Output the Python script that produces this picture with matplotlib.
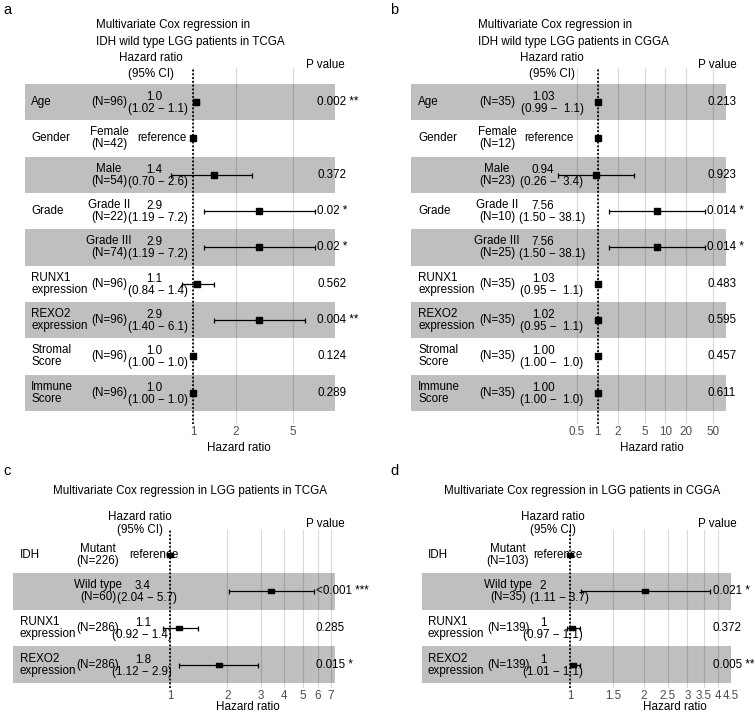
import numpy as np
import matplotlib
matplotlib.use("Agg")
import matplotlib.pyplot as plt
from matplotlib.transforms import blended_transform_factory
from matplotlib.path import Path
from matplotlib.ticker import NullLocator, FixedLocator, FixedFormatter

plt.rcParams["font.family"] = ["Liberation Sans", "DejaVu Sans"]

W, H = 755, 715
FS = 8.4

# ---- panel a: IDH wild type, TCGA ----
vars_a = ["Age", "Gender", "", "Grade", "", "RUNX1\nexpression", "REXO2\nexpression",
          "Stromal\nScore", "Immune\nScore"]
levels_a = ["(N=96)", "Female\n(N=42)", "Male\n(N=54)", "Grade II\n(N=22)", "Grade III\n(N=74)",
            "(N=96)", "(N=96)", "(N=96)", "(N=96)"]
est_a = ["1.0", "reference", "1.4", "2.9", "2.9", "1.1", "2.9", "1.0", "1.0"]
hr_a = [1.05, 1.0, 1.4, 2.9, 2.9, 1.07, 2.9, 1.0, 1.0]
lo_a = [1.02, np.nan, 0.70, 1.19, 1.19, 0.84, 1.40, 1.00, 1.00]
hi_a = [1.1, np.nan, 2.6, 7.2, 7.2, 1.4, 6.1, 1.0, 1.0]
p_a = ["0.002 **", "", "0.372", "0.02 *", "0.02 *", "0.562", "0.004 **", "0.124", "0.289"]
ticks_a = [1, 2, 5]
ticklabels_a = ["1", "2", "5"]

# ---- panel b: IDH wild type, CGGA ----
vars_b = vars_a
levels_b = ["(N=35)", "Female\n(N=12)", "Male\n(N=23)", "Grade II\n(N=10)", "Grade III\n(N=25)",
            "(N=35)", "(N=35)", "(N=35)", "(N=35)"]
est_b = ["1.03", "reference", "0.94", "7.56", "7.56", "1.03", "1.02", "1.00", "1.00"]
hr_b = [1.03, 1.0, 0.94, 7.56, 7.56, 1.03, 1.02, 1.0, 1.0]
lo_b = [0.99, np.nan, 0.26, 1.50, 1.50, 0.95, 0.95, 1.00, 1.00]
hi_b = [1.1, np.nan, 3.4, 38.1, 38.1, 1.1, 1.1, 1.0, 1.0]
p_b = ["0.213", "", "0.923", "0.014 *", "0.014 *", "0.483", "0.595", "0.457", "0.611"]
ticks_b = [0.5, 1, 2, 5, 10, 20, 50]
ticklabels_b = ["0.5", "1", "2", "5", "10", "20", "50"]

# ---- panel c: all LGG, TCGA ----
vars_c = ["IDH", "", "RUNX1\nexpression", "REXO2\nexpression"]
levels_c = ["Mutant\n(N=226)", "Wild type\n(N=60)", "(N=286)", "(N=286)"]
est_c = ["reference", "3.4", "1.1", "1.8"]
hr_c = [1.0, 3.4, 1.11, 1.81]
lo_c = [np.nan, 2.04, 0.92, 1.12]
hi_c = [np.nan, 5.7, 1.4, 2.9]
p_c = ["", "<0.001 ***", "0.285", "0.015 *"]
ticks_c = [1, 2, 3, 4, 5, 6, 7]
ticklabels_c = ["1", "2", "3", "4", "5", "6", "7"]

# ---- panel d: all LGG, CGGA ----
vars_d = vars_c
levels_d = ["Mutant\n(N=103)", "Wild type\n(N=35)", "(N=139)", "(N=139)"]
est_d = ["reference", "2", "1", "1"]
hr_d = [1.0, 2.02, 1.02, 1.03]
lo_d = [np.nan, 1.11, 0.97, 1.01]
hi_d = [np.nan, 3.7, 1.1, 1.1]
p_d = ["", "0.021 *", "0.372", "0.005 **"]
ticks_d = [1, 1.5, 2, 2.5, 3, 3.5, 4, 4.5]
ticklabels_d = ["1", "1.5", "2", "2.5", "3", "3.5", "4", "4.5"]

rect_marker = Path([(-1, -0.55), (1, -0.55), (1, 0.55), (-1, 0.55), (-1, -0.55)],
                   [Path.MOVETO, Path.LINETO, Path.LINETO, Path.LINETO, Path.CLOSEPOLY])


def ci_text(lo, hi, w):
    return f"({lo:.2f} \u2212 {hi:{w}.1f})"


def forest(fig, lay, vars_, levels, est, hr, lo, hi, pv, ticks, ticklabels, hiw, marker, msize):
    n = len(vars_)
    L, R, T, B = lay["left"], lay["right"], lay["top"], lay["bottom"]
    rt, rh = lay["row_top"], lay["row_h"]
    ax = fig.add_axes([L / W, 1 - B / H, (R - L) / W, (B - T) / H])
    ax.set_xscale("log")
    k, one = lay["k"], lay["one"]
    ax.set_xlim(np.exp((L - one) / k), np.exp((R - one) / k))

    def ydata(py):
        return n + 0.5 - (py - rt) / rh

    ax.set_ylim(ydata(B), ydata(T))
    ys = np.arange(n, 0, -1)

    # alternating bands, bottom row grey
    for i, y in enumerate(ys):
        if (n - 1 - i) % 2 == 0:
            ax.axhspan(y - 0.5, y + 0.5, color="black", alpha=0.25, lw=0, zorder=1)

    ax.xaxis.set_major_locator(FixedLocator(ticks))
    ax.xaxis.set_major_formatter(FixedFormatter(ticklabels))
    ax.xaxis.set_minor_locator(NullLocator())
    ax.set_yticks([])
    ax.grid(axis="x", color="#DADADA", lw=0.8, zorder=0.5)
    ax.set_axisbelow(True)
    ax.tick_params(axis="x", length=0, pad=1.5, labelsize=FS, labelcolor="#4D4D4D")
    for s in ax.spines.values():
        s.set_visible(False)
    ax.patch.set_alpha(0)

    ax.axvline(1, color="black", ls=(0, (1, 1.1)), lw=1.3, zorder=2)

    hr = np.array(hr, float)
    lo = np.array(lo, float)
    hi = np.array(hi, float)
    ok = ~np.isnan(lo)
    ax.errorbar(hr[ok], ys[ok], xerr=[hr[ok] - lo[ok], hi[ok] - hr[ok]], fmt="none",
                ecolor="black", elinewidth=0.9, capsize=1.8, capthick=0.9, zorder=3)
    ax.plot(hr, ys, ls="none", marker=marker, ms=msize, color="black", zorder=4)

    tr = blended_transform_factory(ax.transAxes, ax.transData)

    def fx(px):
        return (px - L) / (R - L)

    d_up = 5 / rh
    d_dn = 7 / rh
    ci_dx = lay.get("ci_dx", [0] * n)
    for i, y in enumerate(ys):
        ax.text(fx(lay["var_x"]), y, vars_[i], transform=tr, ha="left", va="center",
                fontsize=FS, linespacing=1.0)
        ax.text(fx(lay["lvl_x"]), y, levels[i], transform=tr, ha="center", va="center",
                fontsize=FS, linespacing=1.0, multialignment="center")
        if est[i] == "reference":
            ax.text(fx(lay["ref_x"]), y, "reference", transform=tr, ha="center", va="center",
                    fontsize=FS)
        else:
            ax.text(fx(lay["est_x"]), y + d_up, est[i], transform=tr, ha="center",
                    va="center", fontsize=FS)
            ax.text(fx(lay["ci_x"] + ci_dx[i]), y - d_dn, ci_text(lo[i], hi[i], hiw),
                    transform=tr, ha="center", va="center", fontsize=FS)
        ax.text(fx(lay["p_x"]), y, pv[i], transform=tr, ha="left", va="center", fontsize=FS)

    # headers
    hy1, hy2, py = lay["hdr_y"]
    fig.text(lay["hdr_x"] / W, 1 - hy1 / H, "Hazard ratio", ha="center", va="center", fontsize=FS)
    fig.text(lay["hdr_x"] / W, 1 - hy2 / H, "(95% CI)", ha="center", va="center", fontsize=FS)
    fig.text(lay["pv_x"] / W, 1 - py / H, "P value", ha="center", va="center", fontsize=FS)
    fig.text(lay["xl"][0] / W, 1 - lay["xl"][1] / H, "Hazard ratio", ha="center", va="center",
             fontsize=FS)
    for tx, ty, s in lay["title"]:
        fig.text(tx / W, 1 - ty / H, s, ha=lay["title_ha"], va="center", fontsize=FS)
    fig.text(lay["lab"][0] / W, 1 - lay["lab"][1] / H, lay["letter"], ha="left",
             va="baseline", fontsize=10.5)
    return ax


fig = plt.figure(figsize=(W / 100, H / 100), dpi=100)

lay_a = dict(left=25, right=335, top=68, bottom=424, row_top=84, row_h=36.33, one=193, k=62,
             var_x=31, lvl_x=109, est_x=154, ci_x=158, ref_x=162, p_x=317, hdr_x=151, pv_x=325,
             hdr_y=(58, 74, 65), xl=(239, 448), lab=(3, 14), letter="a", title_ha="left",
             title=[(96, 25, "Multivariate Cox regression in"),
                    (96, 42, "IDH wild type LGG patients in TCGA")])
lay_b = dict(left=411, right=726, top=68, bottom=424, row_top=84, row_h=36.33, one=597.5, k=29.5,
             var_x=418, lvl_x=497, est_x=543, ci_x=552, ref_x=549, p_x=707, hdr_x=552, pv_x=717,
             hdr_y=(58, 74, 65), xl=(652, 448), lab=(390, 14), letter="b", title_ha="left",
             title=[(478, 25, "Multivariate Cox regression in"),
                    (478, 42, "IDH wild type LGG patients in CGGA")])
lay_c = dict(left=13, right=335, top=530, bottom=688, row_top=536.3, row_h=36.7, one=170, k=82.5,
             var_x=20, lvl_x=98, est_x=143, ci_x=142, ci_dx=[0, 5, 0, 0], ref_x=154, p_x=316,
             hdr_x=140, pv_x=325, hdr_y=(517, 530, 524), xl=(248, 707), lab=(3, 475),
             letter="c", title_ha="center",
             title=[(190, 491, "Multivariate Cox regression in LGG patients in TCGA")])
lay_d = dict(left=422, right=731, top=530, bottom=688, row_top=536.3, row_h=36.7, one=570, k=106.8,
             var_x=428, lvl_x=508, est_x=543, ci_x=553, ci_dx=[0, 6, 0, 0], ref_x=558, p_x=713,
             hdr_x=553, pv_x=717, hdr_y=(517, 530, 524), xl=(675, 707), lab=(390, 475),
             letter="d", title_ha="center",
             title=[(582, 491, "Multivariate Cox regression in LGG patients in CGGA")])

forest(fig, lay_a, vars_a, levels_a, est_a, hr_a, lo_a, hi_a, p_a, ticks_a, ticklabels_a,
       "", "s", 5)
forest(fig, lay_b, vars_b, levels_b, est_b, hr_b, lo_b, hi_b, p_b, ticks_b, ticklabels_b,
       "4", "s", 5)
forest(fig, lay_c, vars_c, levels_c, est_c, hr_c, lo_c, hi_c, p_c, ticks_c, ticklabels_c,
       "", rect_marker, 4.5)
forest(fig, lay_d, vars_d, levels_d, est_d, hr_d, lo_d, hi_d, p_d, ticks_d, ticklabels_d,
       "", rect_marker, 4.5)

fig.savefig("out.png", dpi=100)
